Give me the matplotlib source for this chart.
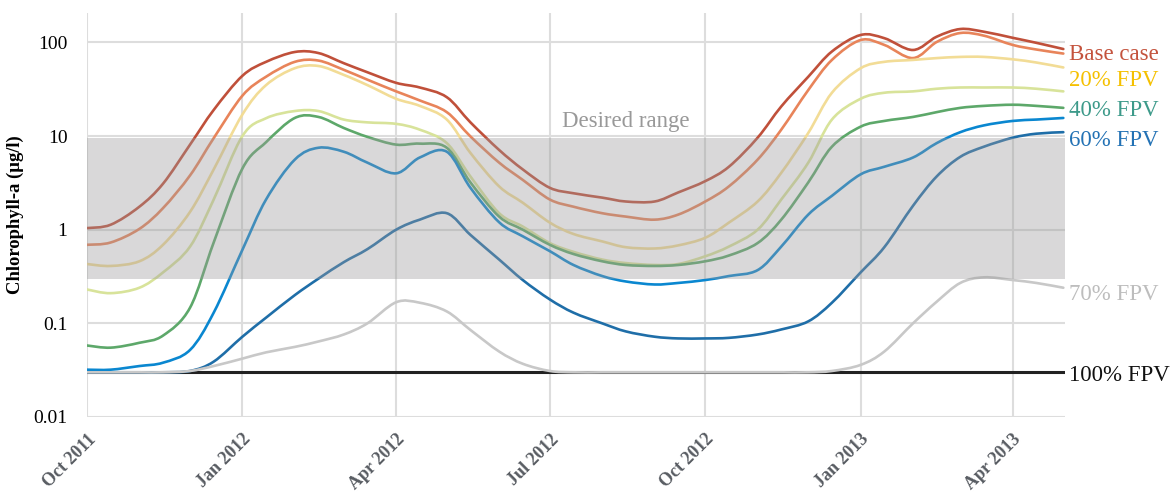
import matplotlib
matplotlib.use('Agg')
import matplotlib.pyplot as plt
import matplotlib.dates as mdates
import matplotlib.transforms as mtransforms
from matplotlib.path import Path
from matplotlib.patches import PathPatch
import numpy as np
import pandas as pd

# sample dates: 1st and 15th of each month
dates = pd.to_datetime([
    '2011-10-01', '2011-10-15', '2011-11-01', '2011-11-15', '2011-12-01', '2011-12-15',
    '2012-01-01', '2012-01-15', '2012-02-01', '2012-02-15', '2012-03-01', '2012-03-15',
    '2012-04-01', '2012-04-15', '2012-05-01', '2012-05-15', '2012-06-01', '2012-06-15',
    '2012-07-01', '2012-07-15', '2012-08-01', '2012-08-15', '2012-09-01', '2012-09-15',
    '2012-10-01', '2012-10-15', '2012-11-01', '2012-11-15', '2012-12-01', '2012-12-15',
    '2013-01-01', '2013-01-15', '2013-02-01', '2013-02-15', '2013-03-01', '2013-03-15',
    '2013-04-01', '2013-04-15', '2013-05-01'])

base = [1.04, 1.13, 1.76, 3.1, 8.1, 19, 44, 62, 79, 77, 60, 48,
        37, 33, 26, 14, 7.1, 4.4, 2.8, 2.45, 2.2, 2.0, 2.0, 2.5,
        3.3, 4.7, 9.6, 20.7, 43, 80, 120, 111, 83, 115, 139, 130,
        112, 99, 85]
fpv10 = [0.69, 0.73, 1.02, 1.7, 3.8, 9.5, 27, 43, 62, 64, 51, 40,
         30, 24, 18, 9.9, 5.2, 3.4, 2.1, 1.76, 1.5, 1.38, 1.28, 1.45,
         2.0, 2.9, 5.6, 11.7, 31, 65, 106, 94, 68, 101, 126, 118,
         94, 84, 76]
fpv20 = [0.43, 0.41, 0.46, 0.69, 1.55, 4.4, 17, 35, 53, 56, 45, 35,
         25, 21, 15, 6.6, 2.9, 1.94, 1.19, 0.9, 0.75, 0.65, 0.63, 0.68,
         0.82, 1.19, 2.0, 4.05, 10.8, 29, 53, 62, 65, 68, 70, 70,
         66, 61, 54]
fpv30 = [0.23, 0.21, 0.24, 0.35, 0.66, 2.1, 10, 15.5, 18.5, 18.5, 15, 14,
         13.5, 11.7, 8.4, 3.7, 1.5, 1.08, 0.72, 0.58, 0.48, 0.44, 0.42, 0.43,
         0.52, 0.66, 1.0, 2.1, 5.2, 15, 25, 29, 30, 32, 33, 33,
         33, 32, 30]
fpv40 = [0.058, 0.055, 0.062, 0.074, 0.147, 0.73, 4.5, 8.6, 15.6, 16, 12.2, 9.8,
         8.1, 8.3, 7.5, 3.2, 1.38, 1.0, 0.69, 0.55, 0.46, 0.42, 0.41, 0.42,
         0.46, 0.53, 0.72, 1.28, 3.2, 7.7, 12.6, 14.5, 16, 18, 20, 21,
         21.6, 21, 20]
fpv50 = [0.032, 0.032, 0.035, 0.038, 0.052, 0.13, 0.61, 2.1, 5.6, 7.5, 6.8, 5.2,
         4.0, 5.9, 6.8, 2.8, 1.2, 0.85, 0.59, 0.42, 0.32, 0.28, 0.26, 0.27,
         0.29, 0.32, 0.37, 0.66, 1.45, 2.3, 3.9, 4.7, 5.9, 8.4, 11, 13,
         14.5, 15, 15.6]
fpv60 = [0.03, 0.03, 0.03, 0.03, 0.031, 0.039, 0.072, 0.115, 0.2, 0.3, 0.45, 0.62,
         1.0, 1.28, 1.5, 0.88, 0.48, 0.29, 0.18, 0.13, 0.1, 0.082, 0.072, 0.069,
         0.069, 0.07, 0.076, 0.086, 0.105, 0.166, 0.35, 0.65, 1.8, 3.7, 6.0, 7.7,
         9.6, 10.6, 11]
fpv70 = [0.03, 0.03, 0.03, 0.03, 0.031, 0.035, 0.042, 0.049, 0.056, 0.064, 0.076, 0.1,
         0.168, 0.166, 0.134, 0.085, 0.05, 0.037, 0.031, 0.03, 0.03, 0.03, 0.03, 0.03,
         0.03, 0.03, 0.03, 0.03, 0.03, 0.031, 0.036, 0.05, 0.1, 0.17, 0.27, 0.31,
         0.29, 0.27, 0.24]
fpv100 = [0.03] * len(dates)

series = [base, fpv10, fpv20, fpv30, fpv40, fpv50, fpv60, fpv70]
colors = ['#c0503a', '#e8845a', '#f2dc96', '#d8e39a', '#5da86a',
          '#0a87d0', '#1f6ea8', '#c8c8c8']

labels = ['Base case', '20% FPV', '40% FPV', '60% FPV', '70% FPV', '100% FPV']
label_y = [75, 39, 18.6, 8.9, 0.203, 0.0278]
label_colors = ['#c4533d', '#f5c000', '#3d9a8a', '#2372b5', '#bdbdbd', '#111111']


def smooth_line(ax, x, y, color, lw):
    # smoothed line (like a spreadsheet "smoothed line") through the points, in log space
    xs = mdates.date2num(x)
    ly = np.log10(y)
    n = len(xs)
    verts = [(xs[0], ly[0])]
    codes = [Path.MOVETO]
    for i in range(n - 1):
        a = max(i - 1, 0)
        b = min(i + 2, n - 1)
        c1 = (xs[i] + (xs[i + 1] - xs[a]) / 6, ly[i] + (ly[i + 1] - ly[a]) / 6)
        c2 = (xs[i + 1] - (xs[b] - xs[i]) / 6, ly[i + 1] - (ly[b] - ly[i]) / 6)
        verts += [c1, c2, (xs[i + 1], ly[i + 1])]
        codes += [Path.CURVE4] * 3
    verts = np.array(verts)
    verts[:, 1] = 10 ** verts[:, 1]
    ax.add_patch(PathPatch(Path(verts, codes), fill=False, edgecolor=color,
                           lw=lw, zorder=2, capstyle='round', joinstyle='round'))


plt.rcParams['font.family'] = ['Liberation Serif', 'DejaVu Serif']

fig = plt.figure(figsize=(11.71, 4.95), dpi=100)
ax = fig.add_axes([0.0743, 0.1576, 0.8352, 0.8161])

ax.plot(dates, fpv100, color='#222222', lw=2.2, zorder=2)
for s, c in zip(series, colors):
    smooth_line(ax, dates, s, c, 1.9)

# desired range band drawn over the lines
ax.axhspan(0.3, 9.5, color='#9b999b', alpha=0.38, lw=0, zorder=3)
ax.text(pd.Timestamp('2012-08-15'), 14.2, 'Desired range', color='#999999',
        fontsize=16.5, ha='center', va='center')

ax.set_yscale('log')
ax.set_ylim(0.01, 206)
ax.set_xlim(pd.Timestamp('2011-10-01'), pd.Timestamp('2013-05-02'))
ax.set_yticks([0.01, 0.1, 1, 10, 100])
ax.set_yticklabels(['0.01', '0.1', '1', '10', '100'], fontsize=14)
ax.yaxis.set_minor_locator(matplotlib.ticker.NullLocator())
ax.xaxis.set_major_locator(mdates.MonthLocator(bymonth=[1, 4, 7, 10]))
ax.xaxis.set_major_formatter(mdates.DateFormatter('%b %Y'))
for t in ax.get_xticklabels():
    t.set_rotation(45)
    t.set_ha('right')
    t.set_rotation_mode('anchor')
    t.set_fontweight('bold')
    t.set_fontsize(13)
    t.set_color('#585c62')
ax.tick_params(length=0)
ax.tick_params(axis='y', pad=14)
ax.tick_params(axis='x', pad=10)
ax.grid(True, color='#dddddd', lw=1.5, zorder=0)
ax.set_axisbelow(True)
for sp in ax.spines.values():
    sp.set_visible(False)
ax.set_ylabel('Chlorophyll-a (\u00b5g/l)', fontweight='bold', fontsize=13.4, labelpad=7)

trans = mtransforms.blended_transform_factory(ax.transAxes, ax.transData)
for lab, y, c in zip(labels, label_y, label_colors):
    ax.text(1.004, y, lab, color=c, fontsize=16.5, transform=trans,
            ha='left', va='center', clip_on=False)

fig.savefig('out.png', dpi=100)
